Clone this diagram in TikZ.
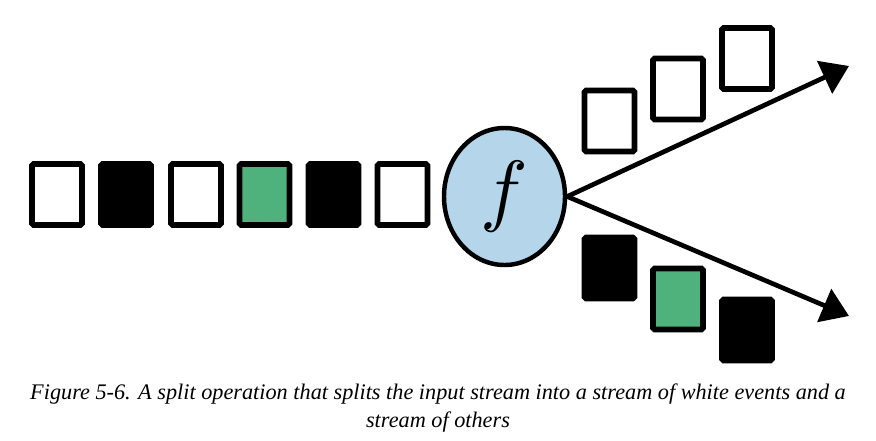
\documentclass[tikz,border=0pt]{standalone}
\usepackage{fontspec}
\setmainfont{Liberation Serif}
\usetikzlibrary{shapes.geometric,arrows.meta}

\begin{document}
\begin{tikzpicture}[x=0.03cm,y=-0.03cm,
  event/.style={draw=black,fill=white,line width=5pt,rounded corners=1.5pt,
    minimum width=1.5cm,minimum height=1.83cm,inner sep=0pt},
  blackev/.style={event,fill=black},
  greenev/.style={event,fill=evgreen},
  fn/.style={ellipse,draw=black,fill=fnblue,line width=3.8pt,
    minimum width=3.63cm,minimum height=4.11cm,inner sep=0pt},
  splitarrow/.style={line width=4pt,-{Triangle[length=23pt,width=30pt]}},
  caption/.style={anchor=base,font=\fontsize{19}{23}\selectfont\itshape}]

\definecolor{evgreen}{RGB}{79,178,124}
\definecolor{fnblue}{RGB}{180,213,234}

\useasboundingbox (0,0) rectangle (876,440);

% -- input stream
\node[event]   (in1) at (57,194.5) {};
\node[blackev] (in2) at (126,194.5) {};
\node[event]   (in3) at (196,194.5) {};
\node[greenev] (in4) at (264.5,194.5) {};
\node[blackev] (in5) at (333.5,194.5) {};
\node[event]   (in6) at (402.5,194.5) {};

% -- split function
\node[fn] (f) at (504.5,196.5) {\scalebox{6.8}{$f$}};

% -- white stream
\node[event] (w1) at (609.5,121) {};
\node[event] (w2) at (678,89) {};
\node[event] (w3) at (747,58.5) {};

% -- other stream
\node[blackev] (o1) at (609.5,268) {};
\node[greenev] (o2) at (678,299) {};
\node[blackev] (o3) at (747,330) {};

% -- draw arrows
\coordinate (up) at (849,66);
\coordinate (down) at (849,316);
\draw[splitarrow] (f.east) -- (up);
\draw[splitarrow] (f.east) -- (down);

% -- caption
\node[caption] (cap1) at (438,399)
  {Figure 5-6. A split operation that splits the input stream into a stream of white events and a};
\node[caption] (cap2) at (438,427) {stream of others};
\end{tikzpicture}
\end{document}
